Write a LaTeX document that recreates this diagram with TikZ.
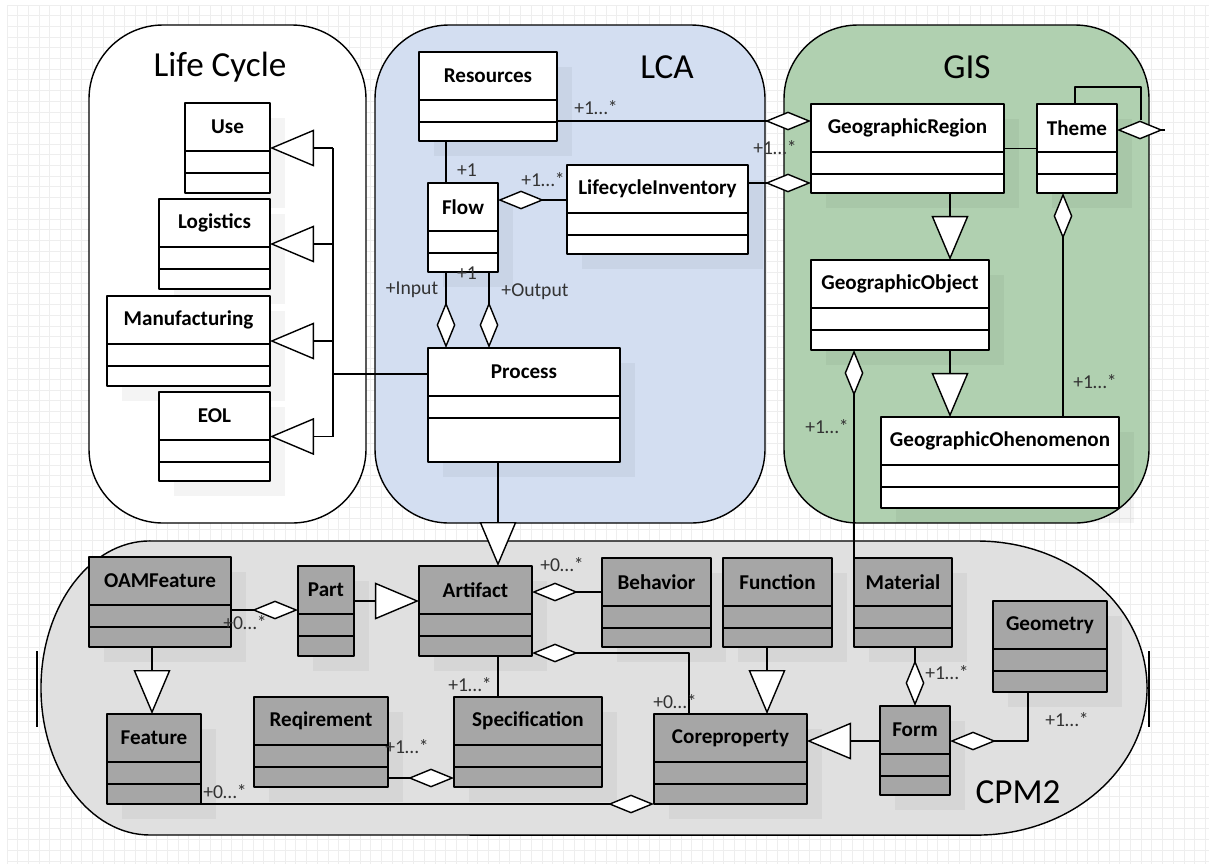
\documentclass[tikz,border=0pt]{standalone}
\usepackage{fontspec}
\setmainfont{Carlito}
\usetikzlibrary{arrows.meta, calc, shadows}

\definecolor{lcablue}{RGB}{211,222,241}
\definecolor{gisgreen}{RGB}{176,208,176}
\definecolor{cpmback}{RGB}{224,224,224}
\definecolor{cpmclass}{RGB}{166,166,166}
\definecolor{gridgray}{RGB}{238,238,238}

\tikzset{
    umlbox/.style={draw, line width=1pt, fill=white, inner sep=0pt, outer sep=0pt, anchor=north west,
        drop shadow={shadow xshift=0.375cm, shadow yshift=-0.375cm, fill=black, opacity=0.045}},
    cpmbox/.style={umlbox, fill=cpmclass},
    clsname/.style={font=\fontsize{15}{17}\selectfont\bfseries, inner sep=0pt},
    mult/.style={font=\fontsize{14}{16}\selectfont, text=black!80, inner sep=0pt},
    title/.style={font=\fontsize{25}{29}\selectfont, inner sep=0pt},
    container/.style={draw, line width=1pt, rounded corners=1.85cm},
    gen/.style={line width=1pt, -{Triangle[length=1.1cm, width=0.92cm, fill=white]}},
    agg/.style={line width=1pt, -{Diamond[length=1.15cm, width=0.47cm, fill=white]}},
    assoc/.style={line width=1pt},
    gridline/.style={gridgray, line width=0.6pt}
}

% class box: [style]{name}{x1}{y1}{x2}{y2}{label}
\newcommand{\umlclass}[7][umlbox]{%
    \node[#1, minimum width={(#5-#3)*0.025cm}, minimum height={(#6-#4)*0.025cm}] (#2) at (#3,#4) {};
    \draw[line width=1pt] ($(#2.north west)+(0,48)$) -- ($(#2.north east)+(0,48)$)
        ($(#2.north west)+(0,70)$) -- ($(#2.north east)+(0,70)$);
    \node[clsname] (#2-t) at ($(#2.north)+(0,24)$) {#7};
}

\begin{document}
\begin{tikzpicture}[x=0.025cm, y=-0.025cm, line join=round]
    \useasboundingbox (0,0) rectangle (1209,864);
    \fill[white] (0,0) rectangle (1209,864);
    \foreach \gx in {7,17.7,...,1209} \draw[gridline] (\gx,5) -- (\gx,864);
    \foreach \gy in {5,15.7,...,864} \draw[gridline] (7,\gy) -- (1209,\gy);

    % packages
    \draw[container, fill=white] (89,25) rectangle (366,523);
    \draw[container, fill=lcablue] (375,25) rectangle (765,523);
    \draw[container, fill=gisgreen] (784,25) rectangle (1149,523);
    \draw[line width=1pt, fill=cpmback] (150,541) -- (977,541)
        arc[start angle=90, end angle=-90, x radius=4.25cm, y radius=3.675cm] -- (150,835)
        arc[start angle=270, end angle=90, x radius=2.725cm, y radius=3.675cm] -- cycle;
    \draw[line width=1pt] (37,651) -- (37,727);
    \draw[line width=1pt] (1149,651) -- (1149,727);

    \node[title] (tLC) at (220,67) {Life Cycle};
    \node[title] (tLCA) at (667,67) {LCA};
    \node[title] (tGIS) at (967,67) {GIS};
    \node[title] (tCPM) at (1018,792) {CPM2};

    % Life Cycle
    \umlclass{Use}{185}{103}{270}{193}{Use}
    \umlclass{Logistics}{159}{199}{270}{289}{Logistics}
    \umlclass{Manufacturing}{107}{296}{270}{386}{Manufacturing}
    \umlclass{EOL}{159}{392}{270}{481}{EOL}

    % LCA
    \umlclass{Resources}{419}{52}{557}{141}{Resources}
    \umlclass{Flow}{428}{183}{498}{272}{Flow}
    \umlclass{Inventory}{567}{165}{748}{254}{LifecycleInventory}
    \umlclass{Process}{428}{348}{620}{462}{Process}

    % GIS
    \umlclass{GeoRegion}{811}{104}{1004}{193}{GeographicRegion}
    \umlclass{Theme}{1037}{104}{1117}{193}{Theme}
    \umlclass{GeoObject}{811}{260}{989}{350}{GeographicObject}
    \umlclass{GeoPhen}{881}{417}{1119}{508}{GeographicOhenomenon}

    % CPM2
    \umlclass[cpmbox]{OAMFeature}{89}{557}{231}{647}{OAMFeature}
    \umlclass[cpmbox]{Part}{298}{566}{354}{656}{Part}
    \umlclass[cpmbox]{Artifact}{419}{566}{532}{656}{Artifact}
    \umlclass[cpmbox]{Behavior}{602}{558}{711}{647}{Behavior}
    \umlclass[cpmbox]{Function}{723}{558}{832}{647}{Function}
    \umlclass[cpmbox]{Material}{854}{558}{952}{647}{Material}
    \umlclass[cpmbox]{Geometry}{993}{601}{1107}{692}{Geometry}
    \umlclass[cpmbox]{Feature}{107}{714}{201}{804}{Feature}
    \umlclass[cpmbox]{Reqirement}{254}{697}{388}{787}{Reqirement}
    \umlclass[cpmbox]{Specification}{454}{697}{602}{787}{Specification}
    \umlclass[cpmbox]{Coreproperty}{654}{714}{807}{804}{Coreproperty}
    \umlclass[cpmbox]{Form}{880}{706}{950}{795}{Form}

    % Life Cycle generalizations
    \coordinate (spine) at (333,374);
    \draw[assoc] (Use.east -| spine) -- (EOL.east -| spine);
    \foreach \c in {Use, Logistics, Manufacturing, EOL}
        \draw[gen] (\c.east -| spine) -- (\c.east);
    \draw[assoc] (spine) -- (spine -| Process.west);

    % LCA links
    \draw[assoc] (Flow.north -| 446,0) -- (Resources.south -| 446,0);
    \draw[agg] (Inventory.west |- 0,200) -- (Flow.east |- 0,200);
    \draw[agg] (Flow.south -| 446,0) -- (Process.north -| 446,0);
    \draw[agg] (Flow.south -| 489,0) -- (Process.north -| 489,0);
    \draw[gen] (Process.south -| 498,0) -- (Artifact.north -| 498,0);
    \draw[agg] (Resources.east |- 0,121) -- (GeoRegion.west |- 0,121);
    \draw[agg] (Inventory.east |- 0,183) -- (GeoRegion.west |- 0,183);

    % GIS links
    \draw[assoc] (GeoRegion.east) -- (Theme.west);
    \draw[assoc] (Theme.north -| 1075,0) |- (1141,87) -- (1141,120);
    \draw[agg] (1165,130) -- (Theme.east |- 0,130);
    \draw[gen] (GeoRegion.south -| 950,0) -- (GeoObject.north -| 950,0);
    \draw[gen] (GeoObject.south -| 950,0) -- (GeoPhen.north -| 950,0);
    \draw[agg] (GeoPhen.north -| 1063,0) -- (Theme.south -| 1063,0);
    \draw[agg] (Material.north west) -- (GeoObject.south -| Material.north west);

    % CPM2 links
    \draw[agg] (OAMFeature.east |- 0,610) -- (Part.west |- 0,610);
    \draw[gen] (Part.east |- 0,601) -- (Artifact.west |- 0,601);
    \draw[gen] (OAMFeature.south -| 152,0) -- (Feature.north -| 152,0);
    \draw[agg] (Behavior.west |- 0,592) -- (Artifact.east |- 0,592);
    \draw[agg] (Coreproperty.north -| 689,0) |- (Artifact.east |- 0,653);
    \draw[assoc] (Artifact.south -| 498,0) -- (Specification.north -| 498,0);
    \draw[gen] (Function.south -| 767,0) -- (Coreproperty.north -| 767,0);
    \draw[agg] (Reqirement.east |- 0,778) -- (Specification.west |- 0,778);
    \draw[agg] (Feature.south east) -- (Coreproperty.south west);
    \draw[agg] (Material.south -| Form.north) -- (Form.north);
    \draw[gen] (Form.west |- 0,741) -- (Coreproperty.east |- 0,741);
    \draw[agg] (Geometry.south -| 1028,0) |- (Form.east |- 0,741);

    % multiplicities and roles
    \node[mult] (mResGR) at (596,108) {+1…*};
    \node[mult] (mInvGR) at (775,148) {+1…*};
    \node[mult] (mResFlow) at (467,170) {+1};
    \node[mult] (mFlowInv) at (543,180) {+1…*};
    \node[mult] (mIn) at (412,290) {+Input};
    \node[mult] (mOut) at (535,292) {+Output};
    \node[mult] (mFlowOut) at (467,273) {+1};
    \node[mult] (mThemePh) at (1095,382) {+1…*};
    \node[mult] (mObjMat) at (827,427) {+1…*};
    \node[mult] (mOAMPart) at (245,623) {+0…*};
    \node[mult] (mArtBeh) at (562,565) {+0…*};
    \node[mult] (mArtCore) at (675,702) {+0…*};
    \node[mult] (mArtSpec) at (470,685) {+1…*};
    \node[mult] (mReqSpec) at (407,747) {+1…*};
    \node[mult] (mFeatCore) at (225,792) {+0…*};
    \node[mult] (mMatForm) at (947,673) {+1…*};
    \node[mult] (mGeoForm) at (1067,720) {+1…*};
\end{tikzpicture}
\end{document}
